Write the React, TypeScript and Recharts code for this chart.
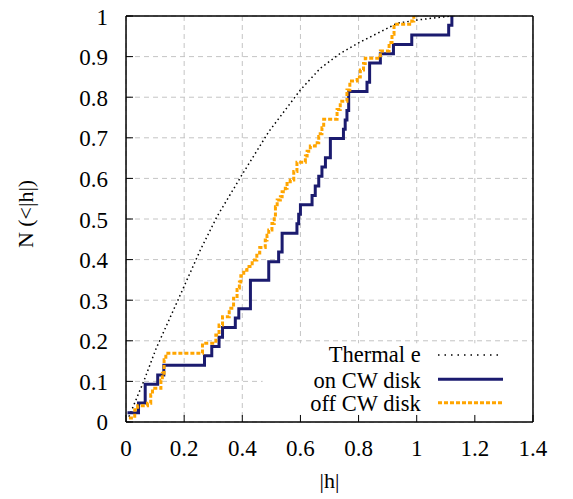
import React from 'react';
import { ComposedChart, Line, XAxis, YAxis, CartesianGrid, ReferenceArea, Legend } from 'recharts';

const FONT = "'Times New Roman', Times, 'Liberation Serif', 'DejaVu Serif', serif";
const NAVY = '#1b1b6f';
const ORANGE = '#ffa500';

// Tick values
const xMajor = [0, 0.2, 0.4, 0.6, 0.8, 1, 1.2, 1.4];
const yMajor = [0, 0.1, 0.2, 0.3, 0.4, 0.5, 0.6, 0.7, 0.8, 0.9, 1];
const xMinor = Array.from({ length: 71 }, (_, i) => Math.round(i * 2) / 100);
const yMinor = Array.from({ length: 101 }, (_, i) => i / 100);

// Series names
const seriesNames = ['Thermal e', 'on CW disk', 'off CW disk'];

// Thermal e (dotted curve)
const thermalH = [0.01, 0.063, 0.103, 0.166, 0.199, 0.256, 0.313, 0.4, 0.491, 0.6, 0.668, 0.737, 0.8, 0.875, 0.932, 1.0, 1.058, 1.12];
const thermalN = [0.013, 0.104, 0.18, 0.28, 0.333, 0.424, 0.506, 0.61, 0.715, 0.818, 0.871, 0.908, 0.934, 0.961, 0.982, 0.99, 0.995, 1.0];

// on CW disk (solid navy steps)
const onH = [0.005, 0.043, 0.066, 0.109, 0.13, 0.27, 0.295, 0.32, 0.332, 0.376, 0.388, 0.428, 0.491, 0.525, 0.537, 0.588, 0.594, 0.6, 0.64, 0.651, 0.663, 0.674, 0.686, 0.703, 0.748, 0.754, 0.76, 0.766, 0.829, 0.838, 0.875, 0.92, 0.983, 1.11, 1.121];
const onN = [0.023, 0.047, 0.093, 0.116, 0.14, 0.163, 0.186, 0.209, 0.233, 0.256, 0.279, 0.349, 0.395, 0.419, 0.465, 0.488, 0.512, 0.535, 0.558, 0.581, 0.605, 0.628, 0.651, 0.698, 0.721, 0.744, 0.767, 0.814, 0.837, 0.884, 0.907, 0.93, 0.953, 0.977, 1.0];

// off CW disk (dashed orange steps)
const offH = [0.01, 0.03, 0.04, 0.074, 0.085, 0.091, 0.12, 0.125, 0.131, 0.137, 0.263, 0.309, 0.32, 0.332, 0.355, 0.37, 0.382, 0.39, 0.395, 0.405, 0.416, 0.434, 0.45, 0.46, 0.479, 0.485, 0.491, 0.502, 0.51, 0.514, 0.52, 0.531, 0.537, 0.548, 0.554, 0.565, 0.577, 0.588, 0.617, 0.623, 0.634, 0.651, 0.663, 0.668, 0.674, 0.68, 0.726, 0.737, 0.76, 0.77, 0.795, 0.806, 0.817, 0.823, 0.875, 0.905, 0.915, 0.922, 0.983, 0.99];
const offN = [0.01, 0.03, 0.04, 0.046, 0.067, 0.083, 0.103, 0.12, 0.153, 0.169, 0.194, 0.214, 0.239, 0.259, 0.28, 0.305, 0.33, 0.345, 0.36, 0.374, 0.383, 0.399, 0.416, 0.43, 0.448, 0.46, 0.473, 0.489, 0.506, 0.53, 0.547, 0.555, 0.567, 0.576, 0.592, 0.596, 0.617, 0.64, 0.655, 0.667, 0.68, 0.688, 0.703, 0.71, 0.725, 0.746, 0.77, 0.79, 0.818, 0.84, 0.85, 0.867, 0.883, 0.896, 0.914, 0.935, 0.955, 0.98, 0.988, 1.0];

const zip = (xs: number[], ys: number[]) => xs.map((x, i) => ({ x, y: ys[i] }));
const thermalData = zip(thermalH, thermalN);
const onData = zip(onH, onN);
const offData = zip(offH, offN);

const legendStyles = [
  { color: '#000', width: 1.5, dash: '1.5 5' },
  { color: NAVY, width: 3, dash: undefined as string | undefined },
  { color: ORANGE, width: 3, dash: '4 2' },
];

const txt = { fontFamily: FONT };

const renderLegend = () => (
  <svg width={220} height={80} style={{ display: 'block', overflow: 'visible' }}>
    {seriesNames.map((name, i) => {
      const lineY = [15, 39.3, 62.7][i];
      const textY = [21.5, 47.5, 71][i];
      const s = legendStyles[i];
      return (
        <g key={name}>
          <text x={120.7} y={textY} textAnchor="end" style={txt} fontSize={22.5} fill="#000">{name}</text>
          <line x1={138} x2={203} y1={lineY} y2={lineY} stroke={s.color} strokeWidth={s.width} strokeDasharray={s.dash} />
        </g>
      );
    })}
  </svg>
);

const XTick = (p: any) => (
  <text x={p.x} y={p.y + 17.5} textAnchor="middle" style={txt} fontSize={23} fill="#000">{p.payload.value}</text>
);
const YTick = (p: any) => (
  <text x={p.x} y={p.y + 8.5} textAnchor="end" style={txt} fontSize={23} fill="#000">{p.payload.value}</text>
);

const axisLineStyle = { stroke: '#000', strokeWidth: 1.5 };
const tickLineStyle = { stroke: '#000', strokeWidth: 1 };

const YLabel = (props: any) => {
  const vb = props.viewBox || { x: 126, y: 16, width: 0, height: 406 };
  const x = vb.x - 101;
  const y = vb.y + vb.height / 2 - 5;
  return (
    <text x={x} y={y} transform={`rotate(-90 ${x} ${y})`} textAnchor="middle" dominantBaseline="central" style={txt} fontSize={22} fill="#000">N (&lt;|h|)</text>
  );
};

const XLabel = (props: any) => {
  const vb = props.viewBox || { x: 126, y: 422, width: 407, height: 0 };
  const x = vb.x + vb.width / 2;
  const y = vb.y + 66;
  return (
    <text x={x} y={y} textAnchor="middle" style={txt} fontSize={22} fill="#000">|h|</text>
  );
};

export default function App() {
  return (
    <div style={{ position: 'absolute', left: 0, top: 0, width: 573, height: 499, fontFamily: FONT }}>
      <ComposedChart
        width={573}
        height={499}
        margin={{ top: 16, right: 40, bottom: 77, left: 126 }}
      >
        <CartesianGrid xAxisId="x" yAxisId="y" stroke="#c4c4c4" strokeDasharray="5 4" strokeWidth={1} />
        <ReferenceArea xAxisId="x" yAxisId="y" x1={0.47} x2={1.4} y1={0} y2={0.194} fill="#ffffff" fillOpacity={1} stroke="none" ifOverflow="visible" />

        <XAxis xAxisId="x" type="number" dataKey="x" domain={[0, 1.4]} ticks={xMajor} interval={0} height={0.01}
          allowDataOverflow tickSize={-7} tickMargin={24} axisLine={axisLineStyle} tickLine={tickLineStyle} tick={<XTick />}
          label={{ content: XLabel }} />
        <XAxis xAxisId="xm" type="number" dataKey="x" domain={[0, 1.4]} ticks={xMinor} interval={0} height={0.01}
          allowDataOverflow tickSize={-3.5} axisLine={false} tickLine={tickLineStyle} tick={false} />
        <XAxis xAxisId="xt" orientation="top" type="number" dataKey="x" domain={[0, 1.4]} ticks={xMajor} interval={0} height={0.01}
          allowDataOverflow tickSize={-7} axisLine={axisLineStyle} tickLine={tickLineStyle} tick={false} />
        <XAxis xAxisId="xtm" orientation="top" type="number" dataKey="x" domain={[0, 1.4]} ticks={xMinor} interval={0} height={0.01}
          allowDataOverflow tickSize={-3.5} axisLine={false} tickLine={tickLineStyle} tick={false} />

        <YAxis yAxisId="y" type="number" domain={[0, 1]} ticks={yMajor} interval={0} width={0.01}
          allowDataOverflow tickSize={-7} tickMargin={25} axisLine={axisLineStyle} tickLine={tickLineStyle} tick={<YTick />}
          label={{ content: YLabel }} />
        <YAxis yAxisId="ym" type="number" domain={[0, 1]} ticks={yMinor} interval={0} width={0.01}
          allowDataOverflow tickSize={-3.5} axisLine={false} tickLine={tickLineStyle} tick={false} />
        <YAxis yAxisId="yr" orientation="right" type="number" domain={[0, 1]} ticks={yMajor} interval={0} width={0.01}
          allowDataOverflow tickSize={-7} axisLine={axisLineStyle} tickLine={tickLineStyle} tick={false} />
        <YAxis yAxisId="yrm" orientation="right" type="number" domain={[0, 1]} ticks={yMinor} interval={0} width={0.01}
          allowDataOverflow tickSize={-3.5} axisLine={false} tickLine={tickLineStyle} tick={false} />

        <Line xAxisId="x" yAxisId="y" data={thermalData} dataKey="y" name={seriesNames[0]} type="linear"
          stroke="#000" strokeWidth={1.5} strokeDasharray="1.5 3" dot={false} activeDot={false} isAnimationActive={false} />
        <Line xAxisId="x" yAxisId="y" data={onData} dataKey="y" name={seriesNames[1]} type="stepAfter"
          stroke={NAVY} strokeWidth={3} dot={false} activeDot={false} isAnimationActive={false} />
        <Line xAxisId="x" yAxisId="y" data={offData} dataKey="y" name={seriesNames[2]} type="stepAfter"
          stroke={ORANGE} strokeWidth={3} strokeDasharray="4 2" dot={false} activeDot={false} isAnimationActive={false} />

        <Legend layout="horizontal" verticalAlign="middle" align="center" content={renderLegend}
          wrapperStyle={{ left: 300, top: 340, width: 220, height: 80 }} />
      </ComposedChart>
    </div>
  );
}
